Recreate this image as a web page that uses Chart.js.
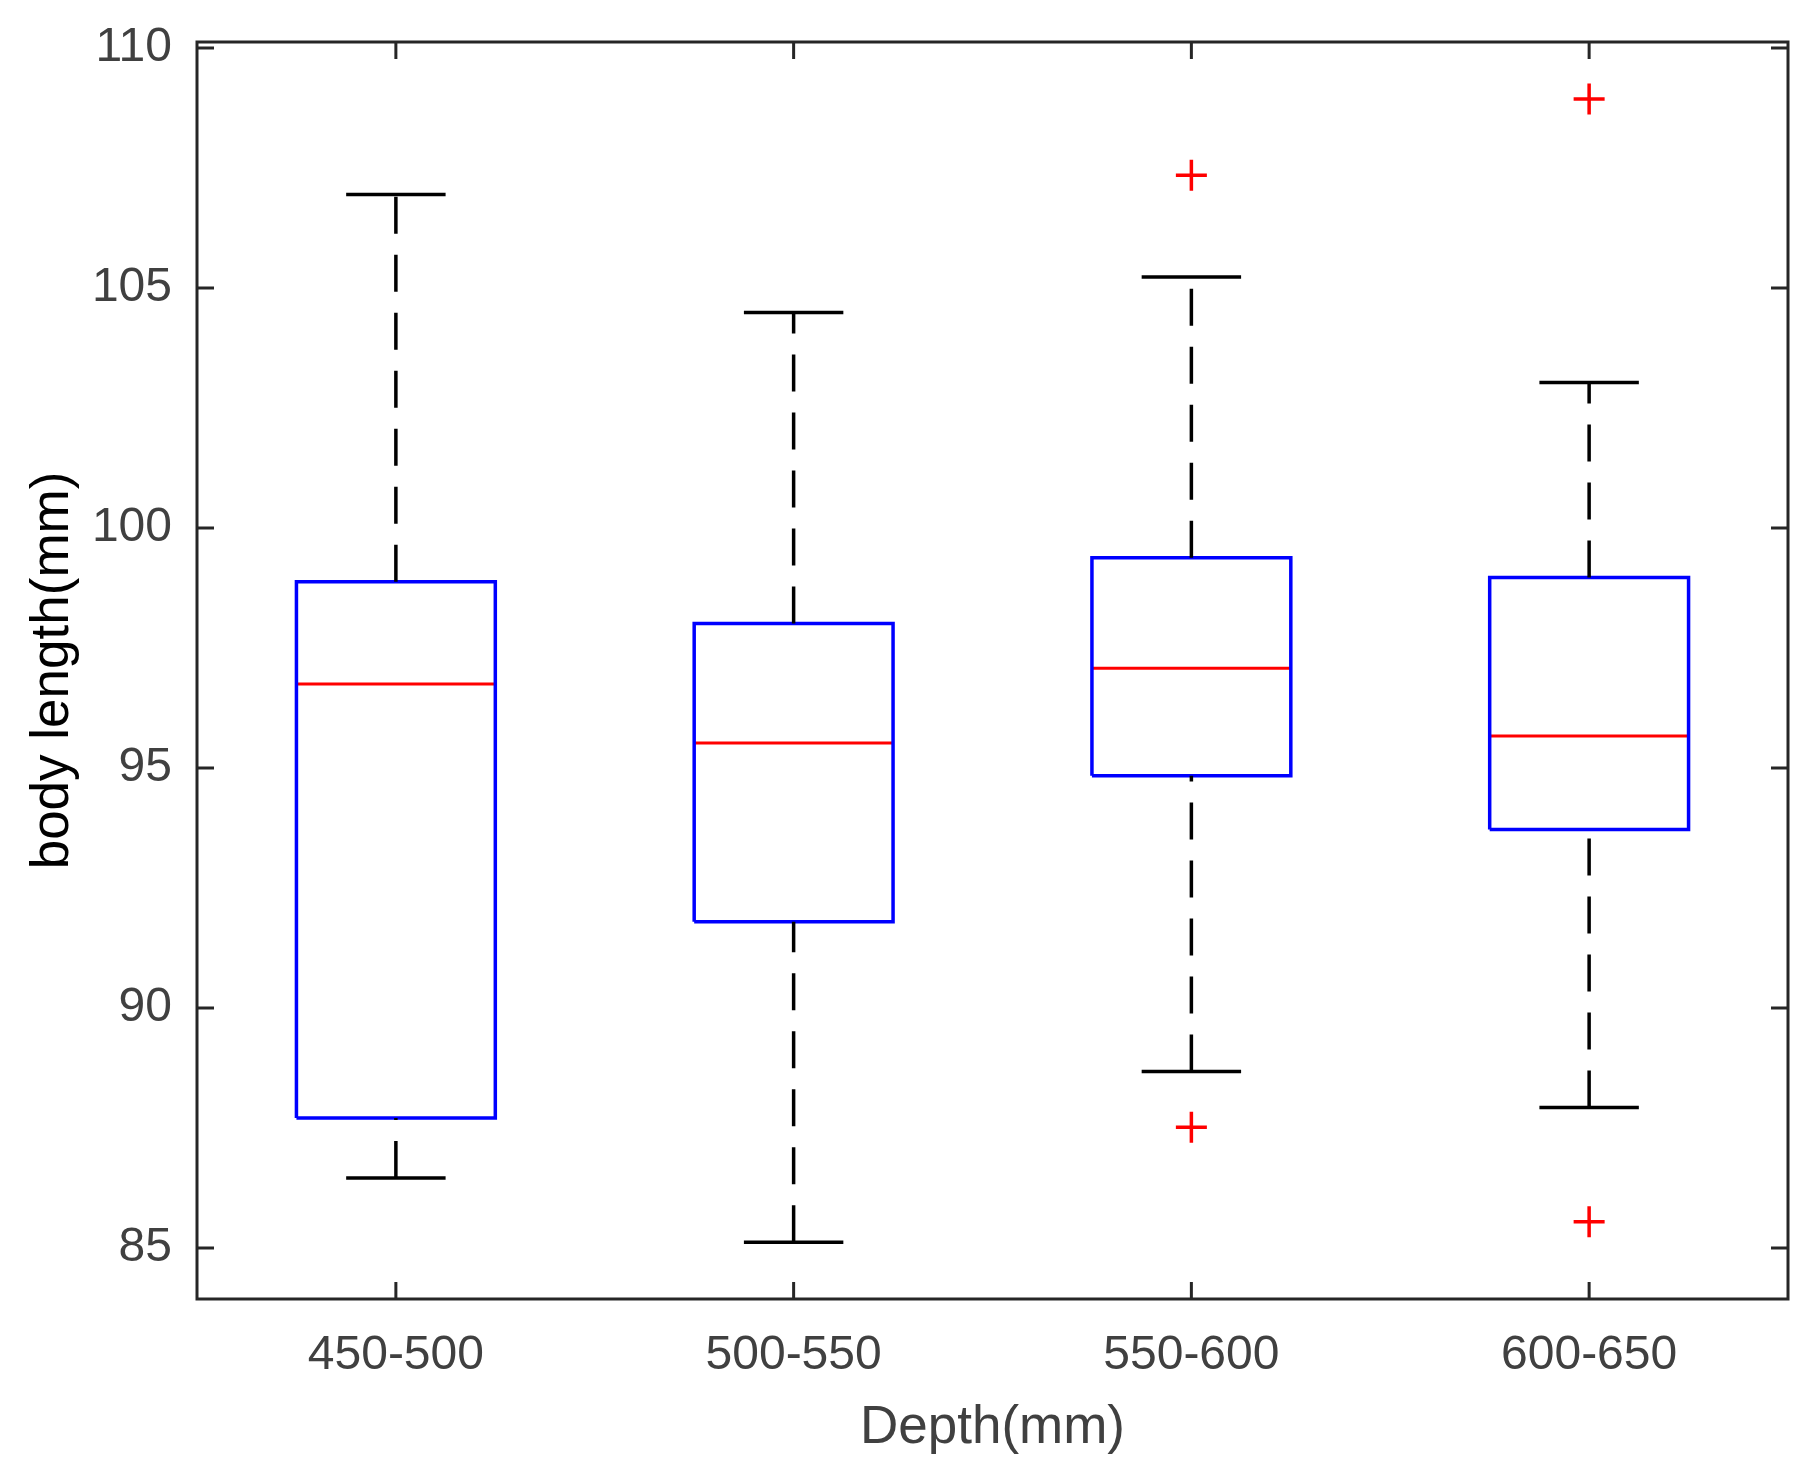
<!DOCTYPE html>
<html>
<head>
<meta charset="utf-8">
<title>body length by depth</title>
<script src="https://cdn.jsdelivr.net/npm/chart.js@4.4.1/dist/chart.umd.min.js"></script>
<style>
  html, body { margin: 0; padding: 0; background: #fff; }
  #chart { display: block; }
</style>
</head>
<body>
<canvas id="chart" width="1817" height="1469"></canvas>
<script>
// Depth groups and the five-number summary
var categories = ['450-500', '500-550', '550-600', '600-650'];
var lowerWhisker = [86.46, 85.12, 88.68, 87.93];
var quartile1 = [87.71, 91.80, 94.84, 93.72];
var medians = [96.75, 95.52, 97.08, 95.67];
var quartile3 = [98.88, 98.01, 99.38, 98.97];
var upperWhisker = [106.95, 104.49, 105.23, 103.03];

// outliers: group index (0-based) and value
var outlierGroup = [2, 2, 3, 3];
var outlierValue = [107.35, 87.52, 108.94, 85.55];

var yTicks = [85, 90, 95, 100, 105, 110];
var yMin = 83.94;
var yMax = 110.125;

var FONT = '"Liberation Sans", Arial, Helvetica, sans-serif';
var AXIS_COLOR = '#262626';
var BOX_HALF = 0.25;
var CAP_HALF = 0.125;
var TICK_LEN = 17;

function seg(x0, y0, x1, y1) {
    return [{ x: x0, y: y0 }, { x: x1, y: y1 }];
}

function lineSet(data, color, width, dash) {
    return {
        data: data,
        showLine: true,
        borderColor: color,
        borderWidth: width,
        borderDash: dash || [],
        borderCapStyle: 'butt',
        pointRadius: 0,
        pointHoverRadius: 0,
        fill: false,
        tension: 0
    };
}

var datasets = [];
categories.forEach(function (c, i) {
    var x = i + 1;
    // whiskers run upward, like matlab draws them
    datasets.push(lineSet(seg(x, quartile3[i], x, upperWhisker[i]), '#000000', 3.5, [37, 21]));
    datasets.push(lineSet(seg(x, lowerWhisker[i], x, quartile1[i]), '#000000', 3.5, [37, 21]));
    datasets.push(lineSet(seg(x - CAP_HALF, upperWhisker[i], x + CAP_HALF, upperWhisker[i]), '#000000', 3.5));
    datasets.push(lineSet(seg(x - CAP_HALF, lowerWhisker[i], x + CAP_HALF, lowerWhisker[i]), '#000000', 3.5));
    datasets.push(lineSet([
        { x: x - BOX_HALF, y: quartile1[i] },
        { x: x - BOX_HALF, y: quartile3[i] },
        { x: x + BOX_HALF, y: quartile3[i] },
        { x: x + BOX_HALF, y: quartile1[i] },
        { x: x - BOX_HALF, y: quartile1[i] }
    ], '#0000ff', 3.5));
    datasets.push(lineSet(seg(x - BOX_HALF, medians[i], x + BOX_HALF, medians[i]), '#ff0000', 3));
});

datasets.push({
    data: outlierValue.map(function (v, k) { return { x: outlierGroup[k] + 1, y: v }; }),
    showLine: false,
    pointStyle: 'cross',
    pointRadius: 15.5,
    pointHoverRadius: 15.5,
    pointBorderWidth: 3.5,
    borderColor: '#ff0000',
    backgroundColor: '#ff0000'
});

// Box around the axes with inward ticks on all four sides
var frameTicks = {
    id: 'frameTicks',
    afterDatasetsDraw: function (chart) {
        var ctx = chart.ctx;
        var a = chart.chartArea;
        var xs = chart.scales.x;
        var ys = chart.scales.y;
        ctx.save();
        ctx.strokeStyle = AXIS_COLOR;
        ctx.lineWidth = 3;
        ctx.lineCap = 'butt';
        ctx.setLineDash([]);
        ctx.beginPath();
        xs.ticks.forEach(function (t) {
            var px = xs.getPixelForValue(t.value);
            ctx.moveTo(px, a.bottom);
            ctx.lineTo(px, a.bottom - TICK_LEN);
            ctx.moveTo(px, a.top);
            ctx.lineTo(px, a.top + TICK_LEN);
        });
        ys.ticks.forEach(function (t) {
            var py = ys.getPixelForValue(t.value);
            ctx.moveTo(a.left, py);
            ctx.lineTo(a.left + TICK_LEN, py);
            ctx.moveTo(a.right, py);
            ctx.lineTo(a.right - TICK_LEN, py);
        });
        ctx.stroke();
        ctx.strokeRect(a.left, a.top, a.right - a.left, a.bottom - a.top);
        ctx.restore();
    }
};

// keep the tick labels from pushing the plot box around
function noOverhang(scale) {
    scale.paddingTop = 0;
    scale.paddingBottom = 0;
    scale.paddingLeft = 0;
    scale.paddingRight = 0;
}

new Chart(document.getElementById('chart').getContext('2d'), {
    type: 'scatter',
    data: { datasets: datasets },
    plugins: [frameTicks],
    options: {
        responsive: false,
        animation: false,
        devicePixelRatio: 1,
        events: [],
        layout: { padding: { top: 42, right: 29, left: 0, bottom: 0 } },
        plugins: {
            legend: { display: false },
            tooltip: { enabled: false }
        },
        scales: {
            x: {
                type: 'linear',
                min: 0.5,
                max: categories.length + 0.5,
                grid: { display: false, drawTicks: false },
                border: { display: false },
                afterBuildTicks: function (scale) {
                    scale.ticks = categories.map(function (c, i) { return { value: i + 1 }; });
                },
                afterFit: function (scale) {
                    scale.height = 170;
                    noOverhang(scale);
                },
                ticks: {
                    padding: 28,
                    color: '#404040',
                    font: { family: FONT, size: 48 },
                    callback: function (v) { return categories[v - 1]; }
                },
                title: {
                    display: true,
                    text: 'Depth(mm)',
                    color: '#404040',
                    font: { family: FONT, size: 53 },
                    padding: { top: 0, bottom: 9 }
                }
            },
            y: {
                type: 'linear',
                min: yMin,
                max: yMax,
                grid: { display: false, drawTicks: false },
                border: { display: false },
                afterBuildTicks: function (scale) {
                    scale.ticks = yTicks.map(function (v) { return { value: v }; });
                },
                afterFit: function (scale) {
                    scale.width = 197;
                    noOverhang(scale);
                },
                ticks: {
                    padding: 25,
                    color: '#404040',
                    font: { family: FONT, size: 48 }
                },
                title: {
                    display: true,
                    text: 'body length(mm)',
                    color: '#000000',
                    font: { family: FONT, size: 53 },
                    padding: { top: 22, bottom: 0 }
                }
            }
        }
    }
});
</script>
</body>
</html>
